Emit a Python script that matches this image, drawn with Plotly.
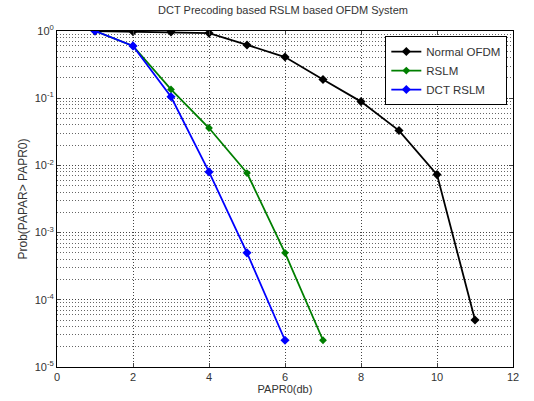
import plotly.graph_objects as go

papr = [1, 2, 3, 4, 5, 6, 7, 8, 9, 10, 11]
normal_ofdm = [1.0, 0.98, 0.97, 0.93, 0.62, 0.41, 0.19, 0.089, 0.033, 0.0073, 5e-5]
papr_rslm = [1, 2, 3, 4, 5, 6, 7]
rslm = [1.0, 0.6, 0.135, 0.036, 0.0077, 5e-4, 2.5e-5]
papr_dct = [1, 2, 3, 4, 5, 6]
dct_rslm = [1.0, 0.6, 0.105, 0.008, 5e-4, 2.5e-5]

ytick_vals = [1, 0.1, 0.01, 1e-3, 1e-4, 1e-5]
ytick_text = ["10<sup>0</sup>", "10<sup>-1</sup>", "10<sup>-2</sup>", "10<sup>-3</sup>", "10<sup>-4</sup>", "10<sup>-5</sup>"]
xtick_vals = [0, 2, 4, 6, 8, 10, 12]

fig = go.Figure()
fig.add_trace(go.Scatter(x=papr, y=normal_ofdm, name="Normal OFDM", mode="lines+markers",
                         line=dict(color="black", width=1.8),
                         marker=dict(symbol="diamond", size=7, color="black")))
fig.add_trace(go.Scatter(x=papr_rslm, y=rslm, name="RSLM", mode="lines+markers",
                         line=dict(color="#007f00", width=1.8),
                         marker=dict(symbol="diamond", size=6, color="#007f00")))
fig.add_trace(go.Scatter(x=papr_dct, y=dct_rslm, name="DCT RSLM", mode="lines+markers",
                         line=dict(color="#0000ff", width=1.8),
                         marker=dict(symbol="diamond", size=7, color="#0000ff")))

grid = dict(showgrid=True, gridcolor="#444444", griddash="1px,2px", gridwidth=1)
fig.update_layout(
    width=534, height=401,
    margin=dict(l=57, r=21, t=31, b=34),
    paper_bgcolor="white", plot_bgcolor="white",
    font=dict(family="Liberation Sans, Arial", size=11, color="#333333"),
    title=dict(text="DCT Precoding based RSLM based OFDM System", x=0.53, xanchor="center",
               y=0.985, yanchor="top", font=dict(size=11)),
    legend=dict(x=0.72, y=0.985, xanchor="left", yanchor="top",
                bordercolor="black", borderwidth=1, bgcolor="white",
                font=dict(size=11.5), tracegroupgap=0, itemwidth=30),
    xaxis=dict(range=[0, 12], tickvals=xtick_vals, ticks="inside", ticklen=4,
               showline=True, linecolor="black", mirror="ticks", zeroline=False,
               automargin=False,
               title=dict(text="PAPR0(db)", standoff=2, font=dict(size=11)), **grid),
    yaxis=dict(type="log", range=[-5, 0], tickvals=ytick_vals, ticktext=ytick_text,
               ticks="inside", ticklen=4, automargin=False,
               showline=True, linecolor="black", mirror="ticks", zeroline=False,
               title=dict(text="Prob(PAPAR> PAPR0)", standoff=4, font=dict(size=12)),
               minor=dict(showgrid=True, dtick="D1", gridcolor="#666666", griddash="1px,2px",
                          gridwidth=1, ticks=""),
               **grid),
)
fig.write_html("out.html", config={"displayModeBar": False},
               post_script="document.body.style.margin='0';")
